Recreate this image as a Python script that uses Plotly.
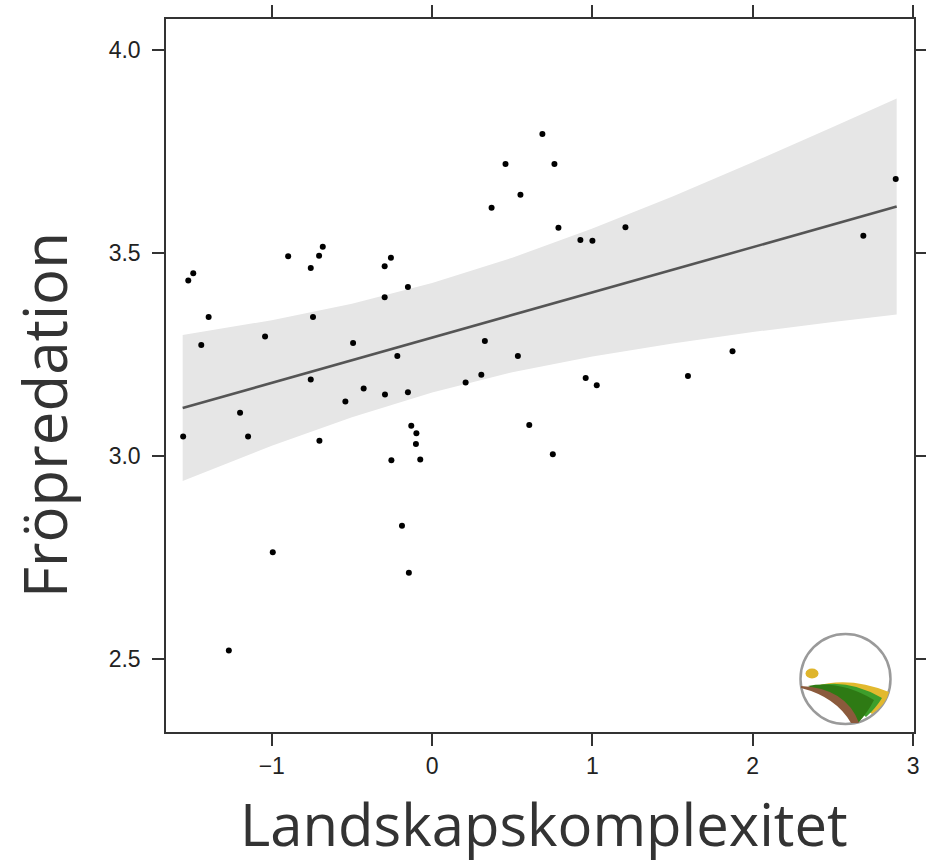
import plotly.graph_objects as go

# ---- data ----
x_vals = [-1.553, -1.521, -1.490, -1.440, -1.394, -1.268, -1.198, -1.148, -1.042, -0.994,
          -0.898, -0.757, -0.757, -0.743, -0.705, -0.682, -0.703, -0.541, -0.493, -0.427,
          -0.296, -0.296, -0.294, -0.257, -0.254, -0.217, -0.188, -0.151, -0.151, -0.145,
          -0.130, -0.098, -0.101, -0.074, 0.209, 0.307, 0.329, 0.371, 0.458, 0.535,
          0.551, 0.606, 0.688, 0.753, 0.763, 0.788, 0.925, 0.958, 1.000, 1.027,
          1.206, 1.596, 1.874, 2.690, 2.892]
y_vals = [3.048, 3.432, 3.450, 3.273, 3.342, 2.521, 3.106, 3.048, 3.294, 2.763,
          3.492, 3.463, 3.188, 3.342, 3.493, 3.515, 3.037, 3.134, 3.278, 3.166,
          3.467, 3.391, 3.151, 3.488, 2.989, 3.246, 2.828, 3.416, 3.157, 2.712,
          3.074, 3.056, 3.029, 2.991, 3.181, 3.200, 3.283, 3.611, 3.719, 3.246,
          3.643, 3.076, 3.793, 3.004, 3.719, 3.562, 3.532, 3.192, 3.530, 3.174,
          3.563, 3.197, 3.258, 3.542, 3.682]

fit_x = [-1.556, 2.898]
fit_y = [3.118, 3.614]

band_x = [-1.556, -1.0, -0.5, 0.0, 0.5, 1.0, 1.5, 2.0, 2.5, 2.898]
band_upper = [3.298, 3.334, 3.375, 3.426, 3.488, 3.560, 3.639, 3.723, 3.810, 3.880]
band_lower = [2.938, 3.025, 3.095, 3.156, 3.206, 3.245, 3.277, 3.305, 3.330, 3.348]

x_ticks = [-1, 0, 1, 2, 3]
x_tick_labels = ["\u22121", "0", "1", "2", "3"]
y_ticks = [2.5, 3.0, 3.5, 4.0]
y_tick_labels = ["2.5", "3.0", "3.5", "4.0"]

x_title = "Landskapskomplexitet"
y_title = "Fröpredation"

# ---- layout geometry (page body margin removed by post_script) ----
W, H = 926, 865
PL, PR, PT, PB = 166, 914, 19, 732          # plot box on screen
ML, MT = PL, PT
MR = W - PR
MB = H - PB
PW, PH = PR - PL, PB - PT

def X(px):
    return (px - PL) / PW

def Y(py):
    return (PB - py) / PH

fig = go.Figure()

# confidence band
fig.add_trace(go.Scatter(
    x=band_x + band_x[::-1], y=band_upper + band_lower[::-1],
    fill="toself", fillcolor="#e6e6e6", line=dict(width=0), mode="lines",
    hoverinfo="skip", showlegend=False))

# fitted line
fig.add_trace(go.Scatter(x=fit_x, y=fit_y, mode="lines",
                         line=dict(color="#555555", width=2.6), showlegend=False))

# points
fig.add_trace(go.Scatter(x=x_vals, y=y_vals, mode="markers",
                         marker=dict(color="black", size=6), showlegend=False))

axis_common = dict(showline=True, linecolor="#333333", linewidth=1.5, mirror="ticks",
                   ticks="outside", ticklen=12, tickwidth=1.5, tickcolor="#333333",
                   showgrid=False, zeroline=False, automargin=False,
                   tickfont=dict(family="Liberation Sans, Arial, sans-serif", size=23, color="#222222"))

fig.update_xaxes(range=[-1.66, 3.006], tickvals=x_ticks, ticktext=x_tick_labels,
                 ticklabelstandoff=1, **axis_common)
fig.update_yaxes(range=[2.320, 4.076], tickvals=y_ticks, ticktext=y_tick_labels,
                 ticklabelstandoff=7, **axis_common)

# logo (decorative)
shapes = []
shapes.append(dict(type="circle", xref="paper", yref="paper",
                   x0=X(800.5), x1=X(890.5), y0=Y(724), y1=Y(634),
                   line=dict(color="#9a9a9a", width=2.5), fillcolor="rgba(0,0,0,0)", layer="above"))
shapes.append(dict(type="circle", xref="paper", yref="paper",
                   x0=X(805.5), x1=X(818.5), y0=Y(678.5), y1=Y(668.5),
                   line=dict(width=0), fillcolor="#dfb52c", layer="above"))

def path(cmds):
    out = []
    for c in cmds:
        if c[0] in ("M", "L"):
            out.append(f"{c[0]} {X(c[1]):.5f},{Y(c[2]):.5f}")
        elif c[0] == "Q":
            out.append(f"Q {X(c[1]):.5f},{Y(c[2]):.5f} {X(c[3]):.5f},{Y(c[4]):.5f}")
        elif c[0] == "Z":
            out.append("Z")
    return " ".join(out)

logo_parts = [
    ("#e2b92e", [("M", 815, 686), ("Q", 850, 676, 889, 692), ("Q", 886, 705, 872, 714),
                 ("Q", 855, 700, 815, 686), ("Z",)]),
    ("#3d9e2b", [("M", 815, 686), ("Q", 848, 678, 882, 698), ("Q", 876, 708, 866, 717),
                 ("Q", 850, 702, 815, 686), ("Z",)]),
    ("#2e7a14", [("M", 808, 686), ("Q", 840, 680, 874, 700), ("Q", 868, 712, 859, 722),
                 ("L", 853, 723), ("Q", 840, 700, 808, 686), ("Z",)]),
    ("#8b5a3c", [("M", 801, 686), ("Q", 846, 688, 859, 723), ("L", 851, 723),
                 ("Q", 836, 697, 801, 688), ("Z",)]),
]
for col, cmds in logo_parts:
    shapes.append(dict(type="path", xref="paper", yref="paper", path=path(cmds),
                       fillcolor=col, line=dict(width=0), layer="above"))

annotations = [
    dict(text=x_title, xref="paper", yref="paper", x=X(544), y=Y(824),
         xanchor="center", yanchor="middle", showarrow=False,
         font=dict(family="Open Sans, Lato, sans-serif", size=58, color="#333333")),
    dict(text=y_title, xref="paper", yref="paper", x=X(44), y=Y(415),
         xanchor="center", yanchor="middle", showarrow=False, textangle=-90,
         font=dict(family="Open Sans, Lato, sans-serif", size=60, color="#333333")),
]

fig.update_layout(width=W, height=H, margin=dict(l=ML, r=MR, t=MT, b=MB),
                  plot_bgcolor="white", paper_bgcolor="white",
                  shapes=shapes, annotations=annotations, showlegend=False)

fig.write_html("out.html", config={"displayModeBar": False},
               post_script="document.body.style.margin='0';document.body.style.overflow='hidden';")
